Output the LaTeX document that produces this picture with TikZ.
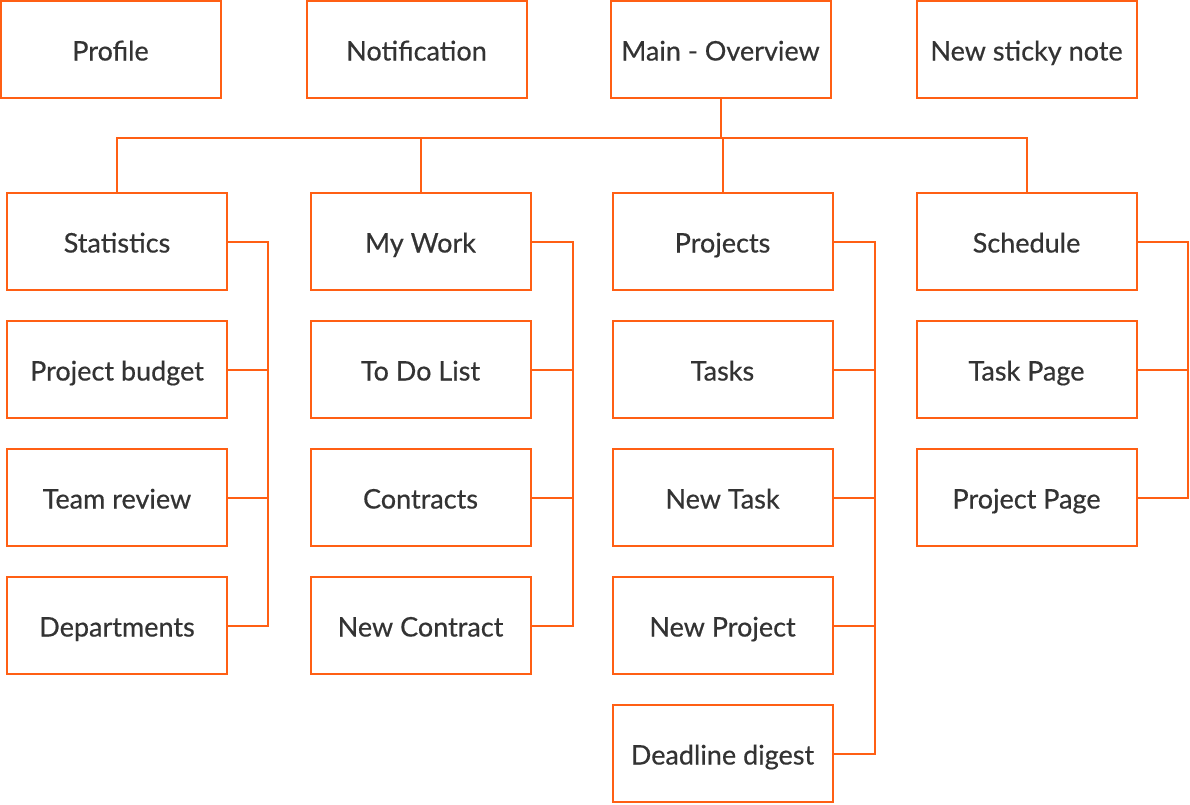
\documentclass[tikz,border=0pt]{standalone}
\usepackage{fontspec}
\setmainfont{Lato}
\newfontfamily\pagefont{Lato}[FakeBold=0.5]
\usetikzlibrary{positioning,calc}
\definecolor{sitemap}{RGB}{255,95,20}
\definecolor{pagetext}{RGB}{51,51,51}
\tikzset{ 
    page/.style={
        rectangle,
        draw=sitemap,
        line width=2pt,
        fill=white,
        text=pagetext,
        minimum width=220pt,
        minimum height=97pt,
        inner sep=0pt,
        outer sep=0pt,
        text height=22pt,
        text depth=0pt,
        font=\pagefont\fontsize{27}{30}\selectfont,
    },
    link/.style={
        draw=sitemap,
        line width=2pt,
    },
}
\begin{document}
\begin{tikzpicture}[x=1pt,y=-1pt,node distance=31pt]
    \useasboundingbox (0,0) rectangle (1190,804);
    \node [page] (profile) at (110.5,49.5) {Profile};
    \node [page] (notif) at (416.5,49.5) {Notification};
    \node [page] (main) at (720.5,49.5) {Main - Overview};
    \node [page] (sticky) at (1026.5,49.5) {New sticky note};

    \node [page] (stats) at (117,241.5) {Statistics};
    \node [page] (budget) [below=of stats] {Project budget};
    \node [page] (team) [below=of budget] {Team review};
    \node [page] (dept) [below=of team] {Departments};

    \node [page] (mywork) at (420.5,241.5) {My Work};
    \node [page] (todo) [below=of mywork] {To Do List};
    \node [page] (contracts) [below=of todo] {Contracts};
    \node [page] (newcontract) [below=of contracts] {New Contract};

    \node [page] (projects) at (722.5,241.5) {Projects};
    \node [page] (tasks) [below=of projects] {Tasks};
    \node [page] (newtask) [below=of tasks] {New Task};
    \node [page] (newproject) [below=of newtask] {New Project};
    \node [page] (digest) [below=of newproject] {Deadline digest};

    \node [page] (schedule) at (1026.5,241.5) {Schedule};
    \node [page] (taskpage) [below=of schedule] {Task Page};
    \node [page] (projpage) [below=of taskpage] {Project Page};

    \coordinate (hub) at ($(main.south)+(0,40)$);
    \path[link] (main.south) -- (hub);
    \path[link] (stats.north) |- (hub) -| (schedule.north);
    \path[link] (mywork.north) |- (hub);
    \path[link] (projects.north) |- (hub);

    \coordinate (statsrail) at ($(stats.east)+(41,0)$);
    \coordinate (workrail) at ($(mywork.east)+(42,0)$);
    \coordinate (projrail) at ($(projects.east)+(42,0)$);
    \coordinate (schedrail) at ($(schedule.east)+(51,0)$);
    \path[link] (stats.east) -- (statsrail) |- (dept.east);
    \path[link] (mywork.east) -- (workrail) |- (newcontract.east);
    \path[link] (projects.east) -- (projrail) |- (digest.east);
    \path[link] (schedule.east) -- (schedrail) |- (projpage.east);
    \foreach \n in {budget,team}
        \path[link] (\n.east) -- (\n.east -| statsrail);
    \foreach \n in {todo,contracts}
        \path[link] (\n.east) -- (\n.east -| workrail);
    \foreach \n in {tasks,newtask,newproject}
        \path[link] (\n.east) -- (\n.east -| projrail);
    \path[link] (taskpage.east) -- (taskpage.east -| schedrail);
\end{tikzpicture}
\end{document}
